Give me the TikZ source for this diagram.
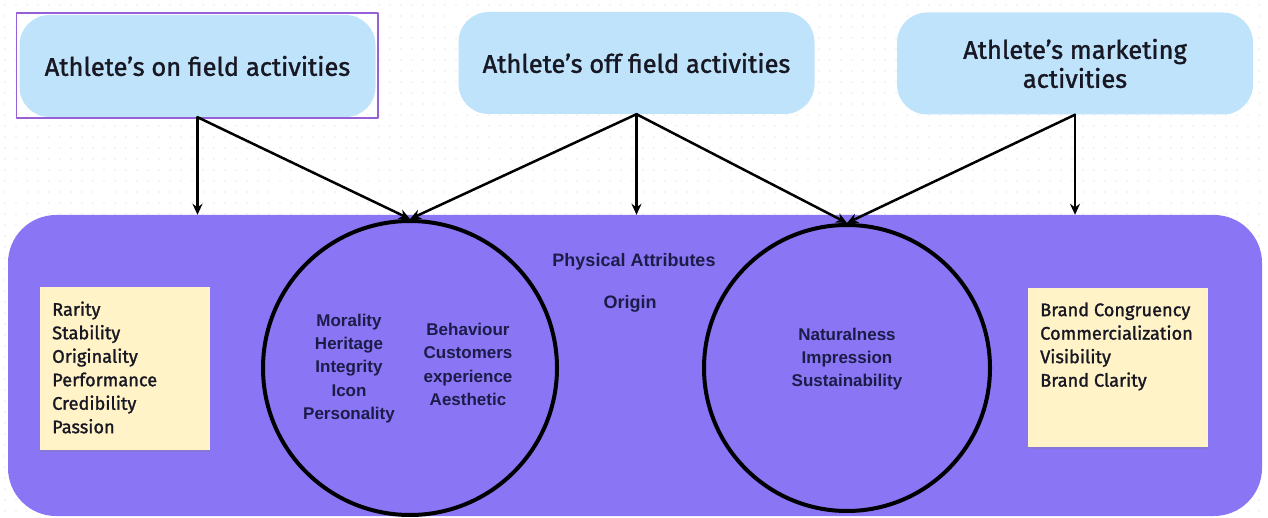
\documentclass[tikz,border=0pt]{standalone}
\usepackage{fontspec}
\setmainfont{Fira Sans}[FakeBold=1.4]
\newfontfamily\arialfont{Liberation Sans}
\usetikzlibrary{arrows.meta,shadows}

\definecolor{skyfill}{RGB}{191,227,250}
\definecolor{selline}{RGB}{150,96,214}
\definecolor{fieldfill}{RGB}{138,117,245}
\definecolor{notefill}{RGB}{255,243,199}
\definecolor{ink}{RGB}{24,24,36}
\definecolor{navy}{RGB}{28,28,72}
\definecolor{dotc}{RGB}{232,232,236}

\begin{document}
\begin{tikzpicture}[x=1pt, y=-1pt, line join=round, line cap=round,
	>={Stealth[length=11pt,width=10pt]},
	act/.style={fill=skyfill, rounded corners=30pt, minimum width=356pt, minimum height=102pt,
		align=center, text=ink, font=\fontsize{25.5}{29}\selectfont},
	note/.style={fill=notefill, drop shadow={shadow xshift=0pt, shadow yshift=-2pt, opacity=.25}},
	ring/.style={circle, draw=black, line width=4pt, inner sep=0pt},
	inner/.style={align=center, text=navy, font=\arialfont\bfseries\fontsize{17}{23.3}\selectfont},
	list/.style={align=left, anchor=west, inner sep=0pt, text=ink, font=\fontsize{18.2}{23.5}\selectfont},
	link/.style={->, line width=2.5pt}]
	\useasboundingbox (0,0) rectangle (1268,518);
	% faint dotted canvas
	\foreach \x in {5,16,...,1268}
		\foreach \y in {5,16,...,518}
			\fill[dotc] (\x,\y) circle (.9);
	% activity boxes
	\node[act] (on) at (197.5,66) {Athlete’s on field activities};
	\draw[selline, line width=1.6pt] ([xshift=-3pt,yshift=-1pt]on.south west) rectangle ([xshift=2pt,yshift=2pt]on.north east);
	\node[act] (off) at (636.5,63) {Athlete’s off field activities};
	\node[act] (mkt) at (1075,63.5) {Athlete’s marketing\\activities};
	% attribute field
	\node[fill=fieldfill, rounded corners=48pt, minimum width=1254pt, minimum height=301pt] (field) at (635,365.5) {};
	\node[ring, minimum size=294pt] (c1) at (410,368) {};
	\node[ring, minimum size=286pt] (c2) at (847,368) {};
	\node[note, minimum width=170pt, minimum height=163pt] (n1) at (125,368.5) {};
	\node[note, minimum width=180pt, minimum height=159pt] (n2) at (1118,367.5) {};
	% texts
	\node[list] (q1) at (52,367.5) {Rarity\\Stability\\Originality\\Performance\\Credibility\\Passion};
	\node[list] (q2) at (1040,346.5) {Brand Congruency\\Commercialization\\Visibility\\Brand Clarity};
	\node[inner] (t1) at (349,368.5) {Morality\\Heritage\\Integrity\\Icon\\Personality};
	\node[inner] (t2) at (468,364.5) {Behaviour\\Customers\\experience\\Aesthetic};
	\node[inner] (t3) at (847,359) {Naturalness\\Impression\\Sustainability};
	\node[inner, font=\arialfont\bfseries\fontsize{18}{22}\selectfont] (phys) at (634,262) {Physical Attributes};
	\node[inner, font=\arialfont\bfseries\fontsize{18}{22}\selectfont] (orig) at (630,304) {Origin};
	% links
	\draw[link] (on.south) -- (on.south |- field.north);
	\draw[link] (on.south) -- (c1.north);
	\draw[link] (off.south) -- (c1.north);
	\draw[link] (off.south) -- (off.south |- field.north);
	\draw[link] (off.south) -- (c2.north);
	\draw[link] (mkt.south) -- (c2.north);
	\draw[link] (mkt.south) -- (mkt.south |- field.north);
\end{tikzpicture}
\end{document}
